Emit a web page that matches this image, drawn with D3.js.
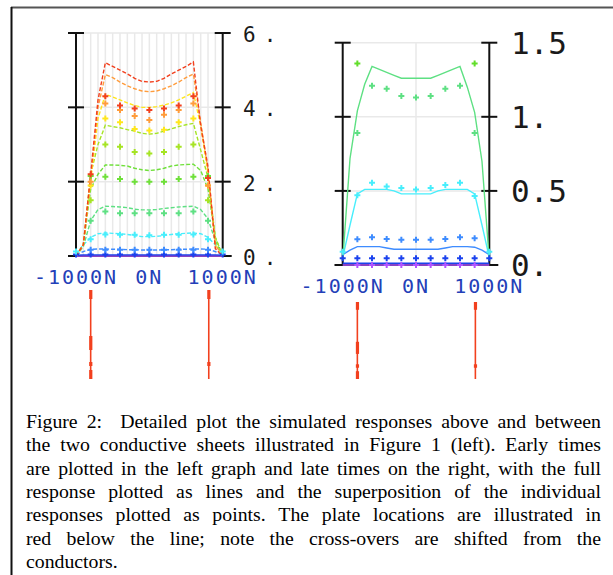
<!DOCTYPE html>
<html>
<head>
<meta charset="utf-8">
<script src="https://cdn.jsdelivr.net/npm/d3@7"></script>
<style>
body{margin:0;background:#fff}
svg{display:block}
</style>
</head>
<body>
<svg id="canvas"></svg>
<script>
let width=613, height=575

// stations along the profile (N)
const stations = [-1000,-900,-800,-700,-600,-500,-400,-300,-200,-100,0,100,200,300,400,500,600,700,800,900,1000]
const pointStations = [-1000,-800,-600,-400,-200,0,200,400,600,800,1000]
const plates = [-800, 810]
const xTickLabels = ["-1000N","0N","1000N"]
const xTickValues = [-1000,0,1000]

const channelColors = {
    red:"#f2401e", orange:"#ff9c3c", yellow:"#ffe61c", ygreen:"#a6e424",
    green:"#6fe03a", lgreen:"#5ee083", cyan:"#48eefc", blue:"#3e8cff",
    dblue:"#1a42ee", purple:"#b255ff", lime:"#62de2a"
}

// early times (left graph): full response as lines
const earlyRed    = [0,0.3,2.2,4.2,5.2,5.1,5.0,4.9,4.78,4.7,4.68,4.7,4.78,4.9,5.0,5.1,5.22,3.5,2.4,0.2,0]
const earlyOrange = [0,0.3,2.1,4.0,4.88,4.8,4.68,4.58,4.5,4.44,4.42,4.44,4.5,4.58,4.68,4.8,4.9,3.6,2.3,0.3,0]
const earlyYellow = [0,0.3,2.0,3.7,4.35,4.28,4.2,4.12,4.05,4.0,4.0,4.02,4.06,4.12,4.2,4.3,4.4,3.5,2.2,0.3,0]
const earlyYGreen = [0,0.3,2.2,3.0,3.52,3.48,3.45,3.4,3.36,3.3,3.28,3.3,3.36,3.42,3.48,3.53,3.57,2.85,2.1,0.5,0]
const earlyGreen  = [0,0.3,1.8,2.2,2.45,2.45,2.44,2.42,2.36,2.32,2.3,2.32,2.36,2.42,2.45,2.46,2.47,2.3,1.8,0.5,0]
const earlyLGreen = [0,0.25,0.95,1.25,1.34,1.33,1.32,1.3,1.26,1.24,1.24,1.25,1.28,1.3,1.32,1.33,1.34,1.25,1.0,0.4,0]
const earlyCyan   = [0.05,0.3,0.5,0.6,0.62,0.61,0.6,0.58,0.55,0.52,0.52,0.53,0.55,0.58,0.6,0.61,0.62,0.6,0.5,0.3,0.05]
const earlyBlue   = [0.04,0.12,0.18,0.19,0.19,0.18,0.18,0.17,0.17,0.16,0.16,0.16,0.17,0.17,0.18,0.18,0.19,0.19,0.18,0.12,0.04]
const earlyDBlue  = [0.02,0.03,0.03,0.03,0.03,0.03,0.03,0.03,0.03,0.03,0.03,0.03,0.03,0.03,0.03,0.03,0.03,0.03,0.03,0.03,0.02]
const earlyPurple = [0,0,0,0,0,0,0,0,0,0,0,0,0,0,0,0,0,0,0,0,0]

// early times: superposition of individual responses as points
const earlyPtRed    = [null,2.2,4.3,4.05,3.97,3.93,3.97,4.05,4.3,2.1,null]
const earlyPtOrange = [null,2.0,4.1,3.93,3.77,3.66,3.8,3.93,4.1,1.9,null]
const earlyPtYellow = [null,1.9,3.7,3.6,3.42,3.38,3.4,3.6,3.7,1.9,null]
const earlyPtYGreen = [null,1.5,3.0,2.94,2.8,2.76,2.8,2.94,3.0,1.5,null]
const earlyPtGreen  = [null,2.15,2.13,2.07,2.0,2.0,2.0,2.07,2.13,2.15,null]
const earlyPtLGreen = [null,0.95,1.2,1.15,1.15,1.15,1.15,1.15,1.2,0.95,null]
const earlyPtCyan   = [0.12,0.45,0.58,0.57,0.57,0.56,0.57,0.57,0.58,0.45,0.12]
const earlyPtBlue   = [null,0.17,0.17,0.17,0.17,0.17,0.17,0.17,0.17,0.17,null]
const earlyPtDBlue  = [0.04,0.04,0.04,0.04,0.04,0.04,0.04,0.04,0.04,0.04,0.04]

// late times (right graph)
const lateLGreen = [0.03,0.72,1.04,1.22,1.34,1.32,1.3,1.28,1.26,1.26,1.26,1.26,1.26,1.28,1.3,1.32,1.34,1.2,1.03,0.7,0.03]
const lateCyan   = [0.05,0.27,0.48,0.51,0.51,0.51,0.51,0.5,0.48,0.48,0.48,0.48,0.48,0.5,0.51,0.51,0.51,0.51,0.48,0.27,0.05]
const lateBlue   = [0.07,0.1,0.124,0.124,0.124,0.124,0.115,0.106,0.106,0.106,0.106,0.106,0.106,0.106,0.115,0.124,0.124,0.124,0.12,0.1,0.07]
const lateDBlue  = [0.012,0.012,0.012,0.012,0.012,0.012,0.012,0.012,0.012,0.012,0.012,0.012,0.012,0.012,0.012,0.012,0.012,0.012,0.012,0.012,0.012]
const latePurple = [0,0,0,0,0,0,0,0,0,0,0,0,0,0,0,0,0,0,0,0,0]

const latePtLime   = [null,1.36,null,null,null,null,null,null,null,1.36,null]
const latePtLGreen = [null,0.89,1.21,1.19,1.14,1.13,1.14,1.19,1.21,0.89,null]
const latePtCyan   = [0.09,0.47,0.555,0.53,0.52,0.51,0.52,0.54,0.555,0.465,0.09]
const latePtBlue   = [null,0.173,0.187,0.175,0.17,0.17,0.17,0.175,0.187,0.18,null]
const latePtDBlue  = [0.045,0.045,0.045,0.045,0.045,0.045,0.045,0.045,0.045,0.045,0.045]
const latePtPurple = [null,0,0,0,0,0,0,0,0,0,null]

const earlyTicks = [0,2,4,6]
const earlyTickLabels = ["0.","2.","4.","6."]
const lateTicks = [0,0.5,1,1.5]
const lateTickLabels = ["0.","0.5","1.","1.5"]

const captionLines = [
    "Figure 2:  Detailed plot the simulated responses above and between",
    "the two conductive sheets illustrated in Figure 1 (left). Early times",
    "are plotted in the left graph and late times on the right, with the full",
    "response plotted as lines and the superposition of the individual",
    "responses plotted as points. The plate locations are illustrated in",
    "red below the line; note the cross-overs are shifted from the",
    "conductors."
]

let svg = d3.select('#canvas').attr("width",width).attr("height",height)
svg.append("rect").attr("width",width).attr("height",height).attr("fill","#fff")

// frame
svg.append("line").attr("x1",11).attr("x2",width).attr("y1",7.5).attr("y2",7.5)
    .attr("stroke","#555").attr("stroke-width",2)
svg.append("line").attr("x1",11.5).attr("x2",11.5).attr("y1",7).attr("y2",height)
    .attr("stroke","#111").attr("stroke-width",2)

let charts = [
    {id:"early", left:76, right:222.7, top:33, bottom:256, max:6, ticks:earlyTicks, tickLabels:earlyTickLabels,
     grid:stations, labelX:243, labelSize:21, labelSpacing:8, labelDy:2, xLabelY:284, plateTop:290,
     lines:[[earlyPurple,"purple"],[earlyDBlue,"dblue"],[earlyBlue,"blue"],[earlyCyan,"cyan"],[earlyLGreen,"lgreen"],
            [earlyGreen,"green"],[earlyYGreen,"ygreen"],[earlyYellow,"yellow"],[earlyOrange,"orange"],[earlyRed,"red"]],
     points:[[earlyPtDBlue,"dblue"],[earlyPtBlue,"blue"],[earlyPtCyan,"cyan"],[earlyPtLGreen,"lgreen"],[earlyPtGreen,"green"],
             [earlyPtYGreen,"ygreen"],[earlyPtYellow,"yellow"],[earlyPtOrange,"orange"],[earlyPtRed,"red"]],
     dash:"4,2"},
    {id:"late", left:342.7, right:489.3, top:42.7, bottom:265, max:1.5, ticks:lateTicks, tickLabels:lateTickLabels,
     grid:[0], labelX:511, labelSize:31, labelSpacing:0, labelDy:0, xLabelY:293, plateTop:302,
     lines:[[latePurple,"purple"],[lateDBlue,"dblue"],[lateBlue,"blue"],[lateCyan,"cyan"],[lateLGreen,"lgreen"]],
     points:[[latePtPurple,"purple"],[latePtDBlue,"dblue"],[latePtBlue,"blue"],[latePtCyan,"cyan"],[latePtLGreen,"lgreen"],[latePtLime,"lime"]],
     dash:null}
]

charts.forEach(c=>{
    let x = d3.scaleLinear().domain([-1000,1000]).range([c.left,c.right])
    let y = d3.scaleLinear().domain([0,c.max]).range([c.bottom,c.top])
    let g = svg.append("g")

    g.append("clipPath").attr("id","clip-"+c.id).append("rect")
        .attr("x",c.left-4).attr("y",c.top).attr("width",c.right-c.left+8).attr("height",c.bottom-c.top+4)

    // gridlines
    g.selectAll(".vgrid").data(c.grid).enter().append("line")
        .attr("x1",d=>x(d)).attr("x2",d=>x(d)).attr("y1",c.top).attr("y2",c.bottom)
        .attr("stroke","#e9e9e9").attr("stroke-width",1.5)
    g.selectAll(".hgrid").data(c.ticks.slice(1)).enter().append("line")
        .attr("x1",c.left).attr("x2",c.right).attr("y1",d=>y(d)).attr("y2",d=>y(d))
        .attr("stroke","#e9e9e9").attr("stroke-width",1.5)

    // axes
    ;[c.left,c.right].forEach(ax=>{
        g.append("line").attr("x1",ax).attr("x2",ax).attr("y1",c.top).attr("y2",c.bottom)
            .attr("stroke","#111").attr("stroke-width",2)
        g.selectAll(null).data(c.ticks).enter().append("line")
            .attr("x1",ax-8).attr("x2",ax+8).attr("y1",d=>y(d)).attr("y2",d=>y(d))
            .attr("stroke","#111").attr("stroke-width",2)
    })
    g.append("line").attr("x1",c.left-8).attr("x2",c.right+9).attr("y1",c.bottom).attr("y2",c.bottom)
        .attr("stroke","#111").attr("stroke-width",2)

    // tick labels
    g.selectAll(".ylab").data(c.ticks).enter().append("text")
        .attr("x",c.labelX).attr("y",d=>y(d)+c.labelDy)
        .attr("dominant-baseline","central")
        .style("font-family","DejaVu Sans Mono").style("font-size",c.labelSize+"px")
        .style("letter-spacing",c.labelSpacing+"px").attr("fill","#1a1a1a")
        .text((d,i)=>c.tickLabels[i])
    g.selectAll(".xlab").data(xTickValues).enter().append("text")
        .attr("x",d=>x(d)).attr("y",c.xLabelY).attr("text-anchor","middle")
        .style("font-family","DejaVu Sans Mono").style("font-size","20px")
        .style("letter-spacing","2px").attr("fill","#2340b8")
        .text((d,i)=>xTickLabels[i])

    // data
    let data = g.append("g").attr("clip-path","url(#clip-"+c.id+")")
    let line = d3.line().x((d,i)=>x(stations[i])).y(d=>y(d))
    c.lines.forEach(([vals,col])=>{
        data.append("path").datum(vals).attr("d",line).attr("fill","none")
            .attr("stroke",channelColors[col]).attr("stroke-width",1.4)
            .attr("stroke-dasharray",col=="purple"||col=="dblue"?null:c.dash)
    })
    let sym = d3.symbol(d3.symbolCross).size(20)
    c.points.forEach(([vals,col])=>{
        data.selectAll(null).data(vals.map((v,i)=>[pointStations[i],v]).filter(d=>d[1]!=null))
            .enter().append("path").attr("d",sym)
            .attr("transform",d=>`translate(${x(d[0])},${y(d[1])})`)
            .attr("fill",channelColors[col])
    })

    // plate locations below the line
    plates.forEach(p=>{
        g.append("line").attr("x1",x(p)).attr("x2",x(p)).attr("y1",c.plateTop).attr("y2",379)
            .attr("stroke","#f2401e").attr("stroke-width",1.6)
        ;[[0,9],[46,60],[72,76],[80,89]].forEach((s,k)=>{
            if(k%2==1 && p>0) return
            g.append("rect").attr("x",x(p)-1.5).attr("y",c.plateTop+s[0]*(379-c.plateTop)/89)
                .attr("width",3.2).attr("height",(s[1]-s[0])*(379-c.plateTop)/89).attr("fill","#f2401e")
        })
    })
})

// caption, justified line by line
let cap = svg.append("g").style("font-family","'Liberation Serif','Times New Roman',serif").style("font-size","19.8px")
let capLeft=26, capRight=601
captionLines.forEach((ln,i)=>{
    let words = ln.split(" ")
    let t = cap.append("text").attr("y",428+i*23.3).attr("fill","#000")
    let spans = words.map(w=>t.append("tspan").text(w))
    let widths = spans.map(s=>s.node().getComputedTextLength())
    let total = d3.sum(widths)
    let last = i==captionLines.length-1
    let gap = last ? 5 : (capRight-capLeft-total)/(words.length-1)
    let xx = capLeft
    spans.forEach((s,k)=>{ s.attr("x",xx); xx += widths[k]+gap })
})
</script>
</body>
</html>
